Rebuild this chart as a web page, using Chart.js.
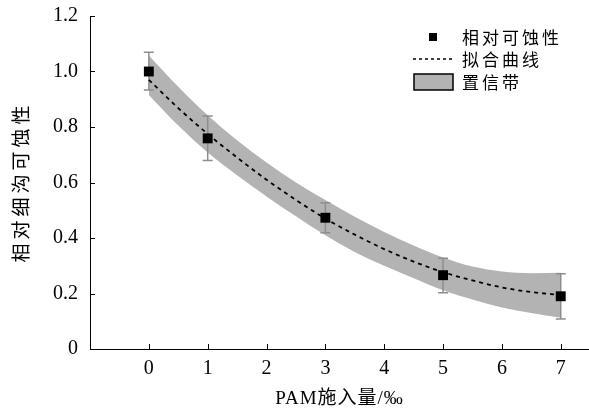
<!DOCTYPE html>
<html>
<head>
<meta charset="utf-8">
<script src="https://cdn.jsdelivr.net/npm/chart.js@4.4.1/dist/chart.umd.min.js"></script>
<style>
  html, body { margin: 0; padding: 0; background: #fff; overflow: hidden; }
  #wrap { width: 589px; height: 412px; }
</style>
</head>
<body>
<div id="wrap"><canvas id="myChart"></canvas></div>
<script>
// tick labels
const xTicks = [0, 1, 2, 3, 4, 5, 6, 7];
const yTicks = [0, 0.2, 0.4, 0.6, 0.8, 1.0, 1.2];

// measured points (relative rill erodibility) + error bars
const doseX = [0, 1, 3, 5, 7];
const erosion = [1.0, 0.759, 0.473, 0.266, 0.19];
const errLow = [0.933, 0.679, 0.419, 0.203, 0.108];
const errHigh = [1.069, 0.84, 0.527, 0.327, 0.271];

// fitted curve and confidence band
const fitX = [0, 0.5, 1, 1.5, 2, 2.5, 3, 3.5, 4, 4.5, 5, 5.5, 6, 6.5, 7];
const fitY = [0.970, 0.868, 0.775, 0.690, 0.610, 0.537, 0.470, 0.412, 0.360, 0.315, 0.277, 0.247, 0.222, 0.205, 0.195];
const bandUpper = [1.058, 0.945, 0.842, 0.752, 0.672, 0.600, 0.537, 0.477, 0.422, 0.373, 0.330, 0.297, 0.279, 0.273, 0.275];
const bandLower = [0.915, 0.805, 0.708, 0.626, 0.550, 0.478, 0.410, 0.350, 0.300, 0.255, 0.212, 0.178, 0.150, 0.130, 0.113];

const legendLabels = ['相对可蚀性', '拟合曲线', '置信带'];
const xTitle = 'PAM施入量/‰';
const yTitle = '相对细沟可蚀性';

const serif = '"Liberation Serif", "Noto Sans CJK SC", serif';
const cjk = '"Noto Sans CJK SC", sans-serif';

const toXY = (xs, ys) => xs.map((x, i) => ({ x: x, y: ys[i] }));

const extras = {
  id: 'extras',
  beforeDatasetsDraw(chart) {
    // error bars
    const ctx = chart.ctx, xs = chart.scales.x, ys = chart.scales.y;
    ctx.save();
    ctx.strokeStyle = '#8e8e8e';
    ctx.lineWidth = 1.5;
    doseX.forEach((d, i) => {
      const px = xs.getPixelForValue(d);
      const lo = ys.getPixelForValue(errLow[i]);
      const hi = ys.getPixelForValue(errHigh[i]);
      ctx.beginPath();
      ctx.moveTo(px, lo); ctx.lineTo(px, hi);
      ctx.moveTo(px - 5, lo); ctx.lineTo(px + 5, lo);
      ctx.moveTo(px - 5, hi); ctx.lineTo(px + 5, hi);
      ctx.stroke();
    });
    ctx.restore();
  },
  afterDraw(chart) {
    const ctx = chart.ctx, xs = chart.scales.x, ys = chart.scales.y;
    const a = chart.chartArea;
    ctx.save();
    // inward ticks
    ctx.strokeStyle = '#000';
    ctx.lineWidth = 1;
    ctx.beginPath();
    xTicks.forEach(v => {
      const px = Math.round(xs.getPixelForValue(v)) + 0.5;
      ctx.moveTo(px, a.bottom); ctx.lineTo(px, a.bottom - 5);
    });
    yTicks.forEach(v => {
      const py = Math.round(ys.getPixelForValue(v)) + 0.5;
      ctx.moveTo(a.left, py); ctx.lineTo(a.left + 5, py);
    });
    ctx.stroke();

    // axis titles
    ctx.fillStyle = '#000';
    ctx.textBaseline = 'middle';
    ctx.textAlign = 'center';
    ctx.font = '19px ' + serif;
    ctx.letterSpacing = '1px';
    ctx.fillText(xTitle, (a.left + a.right) / 2, 399);
    ctx.save();
    ctx.translate(21, 184);
    ctx.rotate(-Math.PI / 2);
    ctx.font = '19px ' + cjk;
    ctx.letterSpacing = '4px';
    ctx.fillText(yTitle, 2, 0);
    ctx.restore();

    // legend
    ctx.textAlign = 'left';
    ctx.font = '17px ' + cjk;
    ctx.letterSpacing = '3px';
    ctx.fillRect(429, 33, 8, 8);
    ctx.fillText(legendLabels[0], 462, 38);
    ctx.setLineDash([3, 3]);
    ctx.lineWidth = 1.6;
    ctx.beginPath();
    ctx.moveTo(413, 59); ctx.lineTo(454, 59);
    ctx.stroke();
    ctx.setLineDash([]);
    ctx.fillText(legendLabels[1], 462, 60);
    ctx.fillStyle = '#b3b3b3';
    ctx.fillRect(414, 74, 39, 16);
    ctx.strokeStyle = '#000';
    ctx.lineWidth = 1.5;
    ctx.strokeRect(414, 74, 39, 16);
    ctx.fillStyle = '#000';
    ctx.fillText(legendLabels[2], 462, 83);
    ctx.restore();
  }
};

new Chart('myChart', {
  type: 'scatter',
  data: {
    datasets: [{
      label: legendLabels[0],
      data: toXY(doseX, erosion),
      pointStyle: 'rect',
      pointRadius: 7,
      pointBackgroundColor: '#000',
      pointBorderColor: '#000',
      pointBorderWidth: 0,
      showLine: false
    }, {
      label: legendLabels[1],
      data: toXY(fitX, fitY),
      showLine: true,
      borderColor: '#000',
      borderWidth: 1.8,
      borderDash: [4, 4],
      pointRadius: 0,
      cubicInterpolationMode: 'monotone'
    }, {
      label: legendLabels[2],
      data: toXY(fitX, bandUpper),
      showLine: true,
      borderWidth: 0,
      borderColor: 'rgba(0,0,0,0)',
      backgroundColor: '#b3b3b3',
      pointRadius: 0,
      cubicInterpolationMode: 'monotone',
      fill: '+1'
    }, {
      label: 'lower',
      data: toXY(fitX, bandLower),
      showLine: true,
      borderWidth: 0,
      borderColor: 'rgba(0,0,0,0)',
      pointRadius: 0,
      cubicInterpolationMode: 'monotone',
      fill: false
    }]
  },
  options: {
    responsive: true,
    maintainAspectRatio: false,
    animation: false,
    layout: { autoPadding: false, padding: { top: 16, right: 0, left: 0, bottom: 0 } },
    plugins: {
      legend: { display: false },
      tooltip: { enabled: false },
      filler: { drawTime: 'beforeDatasetsDraw' }
    },
    scales: {
      x: {
        type: 'linear',
        min: -1,
        max: 7.48,
        afterBuildTicks: s => { s.ticks = xTicks.map(v => ({ value: v })); },
        afterFit: s => { s.height = 63; },
        border: { display: true, color: '#000', width: 1 },
        grid: { display: true, drawOnChartArea: false, drawTicks: false },
        ticks: { color: '#000', padding: 8, maxRotation: 0, font: { family: serif, size: 20 } }
      },
      y: {
        min: 0,
        max: 1.2,
        afterBuildTicks: s => { s.ticks = yTicks.map(v => ({ value: v })); },
        afterFit: s => { s.width = 90; s.paddingTop = 0; s.paddingBottom = 0; },
        border: { display: true, color: '#000', width: 1 },
        grid: { display: true, drawOnChartArea: false, drawTicks: false },
        ticks: {
          color: '#000', padding: 12, font: { family: serif, size: 20 },
          callback: v => v === 0 ? '0' : v.toFixed(1)
        }
      }
    }
  },
  plugins: [extras]
});
</script>
</body>
</html>
